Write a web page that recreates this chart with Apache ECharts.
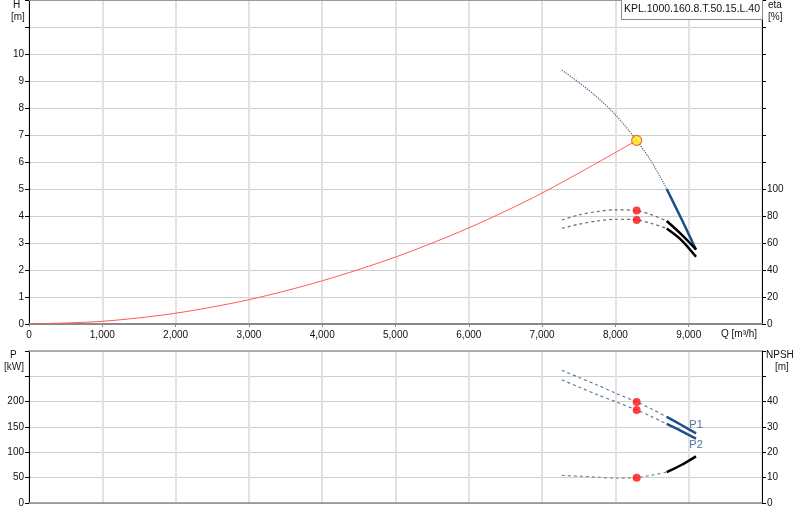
<!DOCTYPE html>
<html>
<head>
<meta charset="utf-8">
<script src="https://cdn.jsdelivr.net/npm/echarts@6/dist/echarts.min.js"></script>
<style>
html,body{margin:0;padding:0;background:#fff;}
#c{width:800px;height:520px;}
</style>
</head>
<body>
<div id="c"></div>
<script>
// ---- data ----
var flow = [7270, 7500, 7750, 8000, 8290, 8500, 8700, 8900, 9100];      // Q [m³/h]
var head = [9.40, 8.95, 8.40, 7.75, 6.80, 5.98, 5.00, 3.90, 2.75];      // H [m]
var eta1 = [77.0, 80.8, 83.3, 84.6, 84.0, 80.8, 76.3, 66.4, 55.2];      // eta [%] upper
var eta2 = [70.9, 73.9, 76.3, 77.6, 77.1, 74.4, 70.7, 62.2, 49.8];      // eta [%] lower
var power1 = [262, 248, 233, 217, 199.5, 185, 170, 154, 137.5];         // P1 [kW]
var power2 = [243, 229, 214, 200, 183.5, 170, 156, 142, 127];           // P2 [kW]
var npsh = [10.9, 10.6, 10.2, 9.8, 10.0, 11.0, 12.2, 15.0, 18.4];       // NPSH [m]
var solidFrom = 6; // index where the solid (allowed range) part starts

var sysFlow = [0, 1000, 2000, 3000, 4000, 5000, 6000, 7000, 8290];
var sysHead = [0, 0.10, 0.40, 0.90, 1.60, 2.48, 3.56, 4.85, 6.80];

var opFlow = 8290, opHead = 6.80;
var opEta = [84.0, 77.1];
var opPower = [199.5, 183.5];
var opNpsh = 10.0;

var xTicks = [0, 1000, 2000, 3000, 4000, 5000, 6000, 7000, 8000, 9000];
var powerNames = ['P1', 'P2'];
var modelName = 'KPL.1000.160.8.T.50.15.L.40';

// ---- helpers ----
function pairs(xs, ys, a, b) {
  var out = [];
  for (var i = a; i < b; i++) out.push([xs[i], ys[i]]);
  return out;
}
var n = flow.length;
var FONT = 'Liberation Sans';
var lblStyle = {color: '#111', fontSize: 10, fontFamily: FONT};

function fmtQ(v) { return xTicks.indexOf(v) >= 0 ? v.toLocaleString('en-US') : ''; }

function yAx(gi, pos, max, interval, labelMax, showSplit) {
  return {
    gridIndex: gi, type: 'value', position: pos, min: 0, max: max, interval: interval,
    axisLine: {show: true, onZero: false, lineStyle: {color: '#000', width: 1}},
    axisTick: {show: true, length: 4, lineStyle: {color: '#000'}},
    axisLabel: Object.assign({margin: 5, showMaxLabel: true,
      formatter: function (v) { return v <= labelMax ? String(v) : ''; }}, lblStyle),
    splitLine: {show: showSplit, lineStyle: {color: '#cfcfcf', width: 1}}
  };
}

var lineBase = {type: 'line', showSymbol: false, symbol: 'none', smooth: 0.3, silent: true, z: 3};
function ln(xi, yi, data, color, width, type, extra) {
  return Object.assign({}, lineBase, {
    xAxisIndex: xi, yAxisIndex: yi, data: data,
    lineStyle: {color: color, width: width, type: type || 'solid'}
  }, extra || {});
}
function dots(xi, yi, data, color, size, border) {
  return {
    type: 'scatter', xAxisIndex: xi, yAxisIndex: yi, data: data, symbolSize: size,
    itemStyle: {color: color, borderColor: border || color, borderWidth: border ? 1.2 : 0},
    z: 6, silent: true
  };
}
function endLabel(xi, yi, x, y, text, pos, dist) {
  return {
    type: 'scatter', xAxisIndex: xi, yAxisIndex: yi, data: [[x, y]], symbolSize: 2,
    itemStyle: {color: 'rgba(0,0,0,0)'}, silent: true, z: 7,
    label: {show: true, position: pos, distance: dist, formatter: text,
      color: '#1d4f88', fontSize: 11, fontFamily: FONT}
  };
}

var option = {
  animation: false,
  backgroundColor: '#fff',
  grid: [
    {left: 29, width: 733, top: 0, height: 324},
    {left: 29, width: 733, top: 351, height: 152}
  ],
  xAxis: [
    {gridIndex: 0, type: 'value', min: 0, max: 10000, interval: 1000,
      axisLine: {show: true, onZero: false, lineStyle: {color: '#8a8a8a', width: 2}},
      axisTick: {show: true, length: 3, lineStyle: {color: '#8a8a8a'}},
      axisLabel: Object.assign({margin: 6, formatter: fmtQ, showMaxLabel: false}, lblStyle),
      splitLine: {show: true, lineStyle: {color: '#e2e2e2', width: 2}}},
    {gridIndex: 1, type: 'value', min: 0, max: 10000, interval: 1000,
      axisLine: {show: true, onZero: false, lineStyle: {color: '#8a8a8a', width: 1.5}},
      axisTick: {show: false}, axisLabel: {show: false},
      splitLine: {show: true, lineStyle: {color: '#e2e2e2', width: 2}}},
    {gridIndex: 0, type: 'value', position: 'top', min: 0, max: 10000,
      axisLine: {show: true, onZero: false, lineStyle: {color: '#9a9a9a', width: 2}},
      axisTick: {show: false}, axisLabel: {show: false}, splitLine: {show: false}},
    {gridIndex: 1, type: 'value', position: 'top', min: 0, max: 10000,
      axisLine: {show: true, onZero: false, lineStyle: {color: '#9a9a9a', width: 1.5}},
      axisTick: {show: false}, axisLabel: {show: false}, splitLine: {show: false}}
  ],
  yAxis: [
    yAx(0, 'left', 12, 1, 10, true),
    yAx(0, 'right', 240, 20, 100, false),
    yAx(1, 'left', 300, 50, 200, true),
    yAx(1, 'right', 60, 10, 40, false)
  ],
  graphic: [
    {type: 'text', left: 13, top: 0, style: {text: 'H', font: '10px ' + FONT, fill: '#111'}},
    {type: 'text', left: 11, top: 12, style: {text: '[m]', font: '10px ' + FONT, fill: '#222'}},
    {type: 'text', left: 768, top: 0, style: {text: 'eta', font: '10px ' + FONT, fill: '#111'}},
    {type: 'text', left: 768, top: 12, style: {text: '[%]', font: '10px ' + FONT, fill: '#222'}},
    {type: 'text', left: 10, top: 350, style: {text: 'P', font: '10px ' + FONT, fill: '#111'}},
    {type: 'text', left: 4, top: 362, style: {text: '[kW]', font: '10px ' + FONT, fill: '#222'}},
    {type: 'text', left: 766, top: 350, style: {text: 'NPSH', font: '10px ' + FONT, fill: '#111'}},
    {type: 'text', left: 775, top: 362, style: {text: '[m]', font: '10px ' + FONT, fill: '#222'}},
    {type: 'text', left: 721, top: 329, style: {text: 'Q [m³/h]', font: '10px ' + FONT, fill: '#111'}},
    {type: 'rect', left: 621, top: -1, shape: {width: 141, height: 20},
      style: {fill: '#fff', stroke: '#8a8a8a', lineWidth: 1}, z: 100},
    {type: 'text', left: 624, top: 4, z: 101,
      style: {text: modelName, font: '10.5px ' + FONT, fill: '#111'}}
  ],
  series: [
    // system curve
    ln(0, 0, pairs(sysFlow, sysHead, 0, sysFlow.length), '#ff5a5a', 1, 'solid'),
    // head curve
    ln(0, 0, pairs(flow, head, 0, solidFrom + 1), '#4d6282', 1.2, 'dotted'),
    ln(0, 0, pairs(flow, head, solidFrom, n), '#1d4f88', 2.5, 'solid'),
    // efficiency curves
    ln(0, 1, pairs(flow, eta1, 0, solidFrom + 1), '#6a6a6a', 1.2, [3, 3]),
    ln(0, 1, pairs(flow, eta1, solidFrom, n), '#000', 2.5, 'solid'),
    ln(0, 1, pairs(flow, eta2, 0, solidFrom + 1), '#6a6a6a', 1.2, [3, 3]),
    ln(0, 1, pairs(flow, eta2, solidFrom, n), '#000', 2.5, 'solid'),
    // power curves
    ln(1, 2, pairs(flow, power1, 0, solidFrom + 1), '#6479a0', 1.2, [3, 3]),
    ln(1, 2, pairs(flow, power1, solidFrom, n), '#1d4f88', 2.5, 'solid'),
    ln(1, 2, pairs(flow, power2, 0, solidFrom + 1), '#6479a0', 1.2, [3, 3]),
    ln(1, 2, pairs(flow, power2, solidFrom, n), '#1d4f88', 2.5, 'solid'),
    endLabel(1, 2, flow[n - 1], power1[n - 1], powerNames[0], 'top', 2),
    endLabel(1, 2, flow[n - 1], power2[n - 1], powerNames[1], 'bottom', 0),
    // NPSH curve
    ln(1, 3, pairs(flow, npsh, 0, solidFrom + 1), '#8a8a8a', 1.2, [3, 3]),
    ln(1, 3, pairs(flow, npsh, solidFrom, n), '#000', 2.5, 'solid'),
    // operating points
    dots(0, 0, [[opFlow, opHead]], '#ffe81a', 10, '#e8501a'),
    dots(0, 1, [[opFlow, opEta[0]], [opFlow, opEta[1]]], '#ff1010', 8),
    dots(1, 2, [[opFlow, opPower[0]], [opFlow, opPower[1]]], '#ff1010', 8),
    dots(1, 3, [[opFlow, opNpsh]], '#ff1010', 8)
  ]
};

var chart = echarts.init(document.getElementById('c'), null, {renderer: 'canvas'});
chart.setOption(option);
</script>
</body>
</html>
